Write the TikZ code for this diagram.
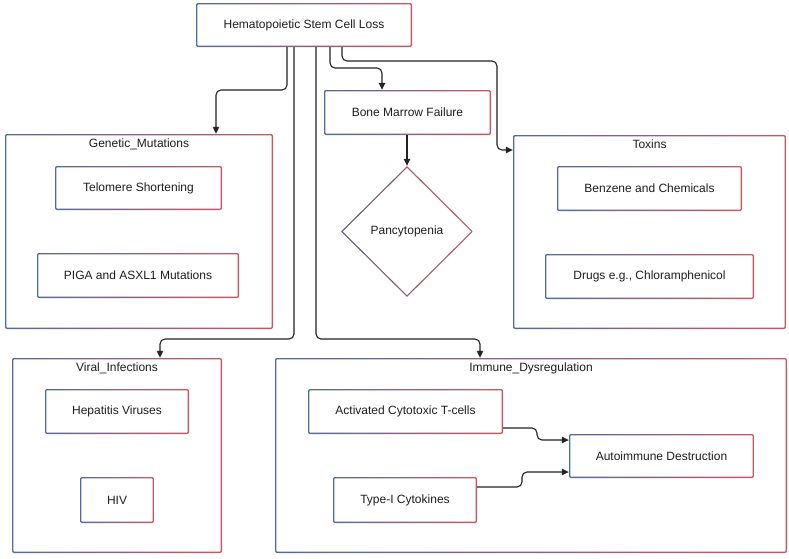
\documentclass[tikz,border=0pt]{standalone}
\usepackage{fontspec}
\setmainfont{Liberation Sans}
\usetikzlibrary{shapes.geometric,arrows.meta}
\definecolor{bblue}{RGB}{82,108,158}
\definecolor{bmid}{RGB}{95,95,105}
\definecolor{bred}{RGB}{200,88,100}
\definecolor{ink}{RGB}{30,30,30}
\definecolor{wire}{RGB}{35,35,35}
\tikzset{
  sz/.style 2 args={minimum width=#1pt, minimum height=#2pt},
  gbox/.style={rectangle, rounded corners=2pt, inner sep=0pt,
    font=\fontsize{12}{14}\selectfont, text=ink,
    path picture={
      \shade[left color=bblue,middle color=bmid,right color=bred]
        (path picture bounding box.south west) rectangle (path picture bounding box.north east);
      \fill[white, rounded corners=1pt]
        ([shift={(1.3pt,1.3pt)}]path picture bounding box.south west) rectangle
        ([shift={(-1.3pt,-1.3pt)}]path picture bounding box.north east);
    }},
  gdiam/.style={diamond, inner sep=0pt, font=\fontsize{12}{14}\selectfont, text=ink,
    path picture={
      \shade[left color=bmid!80!bblue,middle color=bmid,right color=bred]
        (path picture bounding box.south west) rectangle (path picture bounding box.north east);
      \fill[white]
        ([yshift=-1.8pt]path picture bounding box.north) --
        ([xshift=-1.8pt]path picture bounding box.east) --
        ([yshift=1.8pt]path picture bounding box.south) --
        ([xshift=1.8pt]path picture bounding box.west) -- cycle;
    }},
  ttl/.style={font=\fontsize{12}{14}\selectfont, text=ink, inner sep=0pt},
  conn/.style={draw=wire, line width=1.1pt, rounded corners=5pt,
    -{Triangle[length=7pt,width=6.5pt]}},
}
\begin{document}
\begin{tikzpicture}[x=1pt,y=-1pt]
\useasboundingbox (0,0) rectangle (789,558);
\fill[white] (0,0) rectangle (789,558);

% containers
\node[gbox, sz={268}{195}] (genetic) at (139,231.5) {};
\node[gbox, sz={273}{194}] (toxins) at (649.5,232) {};
\node[gbox, sz={210}{195}] (viral) at (117,455.5) {};
\node[gbox, sz={512}{195}] (immune) at (531,455.5) {};

\node[ttl] (gtitle) at (139,144) {Genetic\_Mutations};
\node[ttl] (ttitle) at (649.5,144) {Toxins};
\node[ttl] (vtitle) at (117,368) {Viral\_Infections};
\node[ttl] (ititle) at (531,368) {Immune\_Dysregulation};

% nodes
\node[gbox, sz={216}{44}] (top) at (304,25) {Hematopoietic Stem Cell Loss};
\node[gbox, sz={167}{45}] (bmf) at (407.5,112.5) {Bone Marrow Failure};
\node[gdiam, sz={132}{131}] (pan) at (407,231.5) {Pancytopenia};

\node[gbox, sz={167}{44}] (telo) at (138.5,188) {Telomere Shortening};
\node[gbox, sz={202}{45}] (piga) at (138,275.5) {PIGA and ASXL1 Mutations};

\node[gbox, sz={185}{45}] (benz) at (649.5,188.5) {Benzene and Chemicals};
\node[gbox, sz={209}{45}] (drugs) at (649.5,276.5) {Drugs e.g., Chloramphenicol};

\node[gbox, sz={144}{45}] (hep) at (117,411.5) {Hepatitis Viruses};
\node[gbox, sz={74}{46}] (hiv) at (117,500) {HIV};

\node[gbox, sz={195}{45}] (act) at (405.5,411.5) {Activated Cytotoxic T-cells};
\node[gbox, sz={144}{46}] (typ) at (405,500) {Type-I Cytokines};
\node[gbox, sz={185}{44}] (auto) at (661.5,456) {Autoimmune Destruction};

% connectors
\draw[conn] ([xshift=-17pt]top.south) -- (287,90) -- (216,90) -- (216,0 |- genetic.north);
\draw[conn] ([xshift=-10pt]top.south) -- (294,339) -- (160,339) -- (160,0 |- viral.north);
\draw[conn] ([xshift=12pt]top.south) -- (316,339) -- (480,339) -- (480,0 |- immune.north);
\draw[conn] ([xshift=26pt]top.south) -- (330,68) -- (382,68) -- (382,0 |- bmf.north);
\draw[conn] ([xshift=38pt]top.south) -- (342,61) -- (497,61) -- (497,150) -- (toxins.west |- 0,150);
\draw[conn] (bmf.south -| pan.north) -- (pan.north);
\draw[conn] ([yshift=-16.5pt]act.east) -- (537,428) -- (537,440) -- ([yshift=16pt]auto.west);
\draw[conn] ([yshift=13pt]typ.east) -- (522,487) -- (522,472) -- ([yshift=-16pt]auto.west);
\end{tikzpicture}
\end{document}
